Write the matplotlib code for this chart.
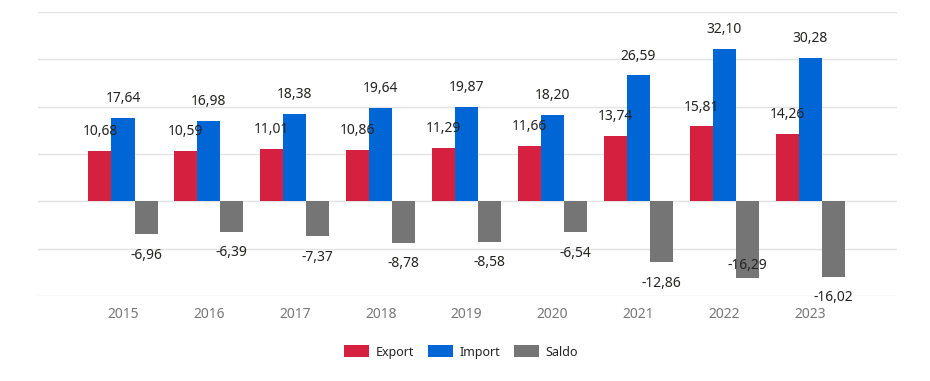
import matplotlib.pyplot as plt
import numpy as np

plt.rcParams['font.family'] = ['Noto Sans', 'DejaVu Sans']

years = ['2015', '2016', '2017', '2018', '2019', '2020', '2021', '2022', '2023']
export = [10.68, 10.59, 11.01, 10.86, 11.29, 11.66, 13.74, 15.81, 14.26]
imports = [17.64, 16.98, 18.38, 19.64, 19.87, 18.20, 26.59, 32.10, 30.28]
saldo = [-6.96, -6.39, -7.37, -8.78, -8.58, -6.54, -12.86, -16.29, -16.02]

c_exp = '#D62040'
c_imp = '#0066D6'
c_sal = '#757575'


def fmt(v):
    return f'{v:.2f}'.replace('.', ',')


fig = plt.figure(figsize=(9.3, 3.81), dpi=100)
ax = fig.add_axes([38 / 930, 85 / 381, 859 / 930, 284 / 381])

x = np.arange(len(years))
w = 0.268

b1 = ax.bar(x - w, export, w, color=c_exp, label='Export', zorder=3)
b2 = ax.bar(x, imports, w, color=c_imp, label='Import', zorder=3)
b3 = ax.bar(x + w, saldo, w, color=c_sal, label='Saldo', zorder=3)

# popisky hodnot
for bars, vals in ((b1, export), (b2, imports)):
    for r, v in zip(bars, vals):
        ax.annotate(fmt(v), (r.get_x() + r.get_width() / 2, v),
                    xytext=(0, 14), textcoords='offset points',
                    ha='center', va='center', fontsize=10, color='#252423')

for i, (r, v) in enumerate(zip(b3, saldo)):
    off = -15
    if i == 7:
        off = 9   # v originale je popisek posunuty nahoru
    ax.annotate(fmt(v), (r.get_x() + r.get_width() / 2, v),
                xytext=(0, off), textcoords='offset points',
                ha='center', va='center', fontsize=10, color='#252423')

ax.set_ylim(-20, 40)
ax.set_yticks(np.arange(-20, 41, 10))
ax.set_yticklabels([])
ax.tick_params(axis='y', length=0)
ax.set_xlim(-(123 - 38) / 85.9, (897 - 123) / 85.9)
ax.set_xticks(x)
ax.set_xticklabels(years, fontsize=10, color='#777777')
ax.tick_params(axis='x', length=0, pad=8)
ax.grid(axis='y', color='#e3e3e3', linewidth=1, zorder=0)
for s in ax.spines.values():
    s.set_visible(False)

fig.legend(handles=[b1, b2, b3], labels=['Export', 'Import', 'Saldo'],
           loc='center', bbox_to_anchor=(461 / 930, 1 - 352 / 381),
           ncol=3, frameon=False, fontsize=9, handlelength=2.0,
           handleheight=1.1, columnspacing=1.15, handletextpad=0.5,
           labelcolor='#252423')

fig.savefig('out.png', dpi=100)
